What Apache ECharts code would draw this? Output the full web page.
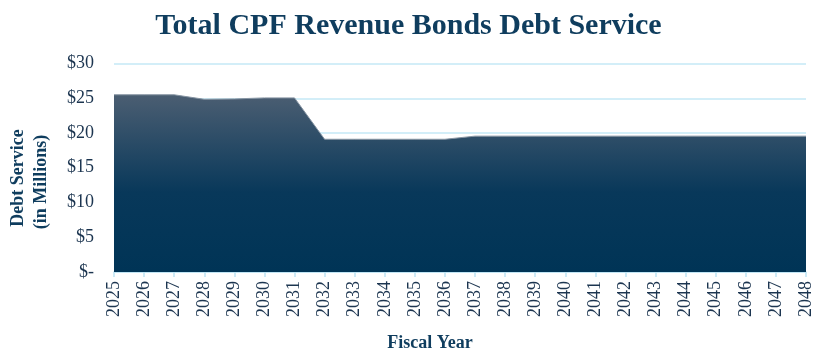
<!DOCTYPE html>
<html>
<head>
<meta charset="utf-8">
<script src="https://cdn.jsdelivr.net/npm/echarts@6/dist/echarts.min.js"></script>
<style>
  html, body { margin: 0; padding: 0; background: #ffffff; }
  #chart { width: 817px; height: 354px; }
</style>
</head>
<body>
<div id="chart"></div>
<script>
// Fiscal years on the category axis
const years = ['2025','2026','2027','2028','2029','2030','2031','2032','2033','2034','2035','2036',
               '2037','2038','2039','2040','2041','2042','2043','2044','2045','2046','2047','2048'];

// Total debt service per fiscal year, $ millions
const debtService = [25.5, 25.5, 25.5, 24.85, 24.9, 25.05, 25.05, 19.1, 19.1, 19.1, 19.1, 19.1,
                     19.55, 19.55, 19.55, 19.55, 19.55, 19.55, 19.55, 19.55, 19.55, 19.55, 19.55, 19.55];

// Value axis tick labels ($ millions)
const yTickLabels = { 0: '$-', 5: '$5', 10: '$10', 15: '$15', 20: '$20', 25: '$25', 30: '$30' };

const serif = '"Liberation Serif", "Times New Roman", serif';
const textColor = '#1c3550';
const navy = '#0f3d5e';

const chart = echarts.init(document.getElementById('chart'), null, { renderer: 'canvas' });

chart.setOption({
  backgroundColor: '#ffffff',
  animation: false,
  title: {
    text: 'Total CPF Revenue Bonds Debt Service',
    left: 'center',
    top: 6,
    textStyle: { fontFamily: serif, fontWeight: 'bold', fontSize: 30, color: navy }
  },
  grid: { left: 114, right: 11, top: 63.5, bottom: 82, containLabel: false },
  xAxis: {
    type: 'category',
    data: years,
    boundaryGap: false,
    axisLine: { show: true, lineStyle: { color: '#bde3f3', width: 1.5 } },
    axisTick: { show: true, alignWithLabel: true, length: 5, lineStyle: { color: '#bde3f3', width: 1.5 } },
    axisLabel: { rotate: 90, margin: 9, fontFamily: serif, fontSize: 18, color: textColor, interval: 0 },
    splitLine: { show: false }
  },
  yAxis: {
    type: 'value',
    min: 0,
    max: 30,
    interval: 5,
    axisLine: { show: false },
    axisTick: { show: false },
    axisLabel: {
      margin: 20,
      fontFamily: serif,
      fontSize: 18,
      color: textColor,
      formatter: v => yTickLabels[v] !== undefined ? yTickLabels[v] : ''
    },
    splitLine: { show: true, lineStyle: { color: '#c4e8f6', width: 1.5 } }
  },
  graphic: [
    {
      type: 'text',
      x: 18, y: 178,
      rotation: Math.PI / 2,
      style: {
        text: 'Debt Service',
        font: 'bold 18px ' + serif,
        fill: navy,
        align: 'center',
        verticalAlign: 'middle'
      }
    },
    {
      type: 'text',
      x: 41, y: 182,
      rotation: Math.PI / 2,
      style: {
        text: '(in Millions)',
        font: 'bold 18px ' + serif,
        fill: navy,
        align: 'center',
        verticalAlign: 'middle'
      }
    },
    {
      type: 'text',
      x: 430, y: 343,
      style: {
        text: 'Fiscal Year',
        font: 'bold 18px ' + serif,
        fill: navy,
        align: 'center',
        verticalAlign: 'middle'
      }
    }
  ],
  series: [
    {
      type: 'line',
      data: debtService,
      symbol: 'none',
      lineStyle: { color: '#8795a3', width: 1 },
      areaStyle: {
        opacity: 1,
        color: new echarts.graphic.LinearGradient(0, 0, 0, 1, [
          { offset: 0, color: '#4b5e72' },
          { offset: 0.55, color: '#08385a' },
          { offset: 1, color: '#003456' }
        ])
      }
    }
  ]
});
</script>
</body>
</html>
